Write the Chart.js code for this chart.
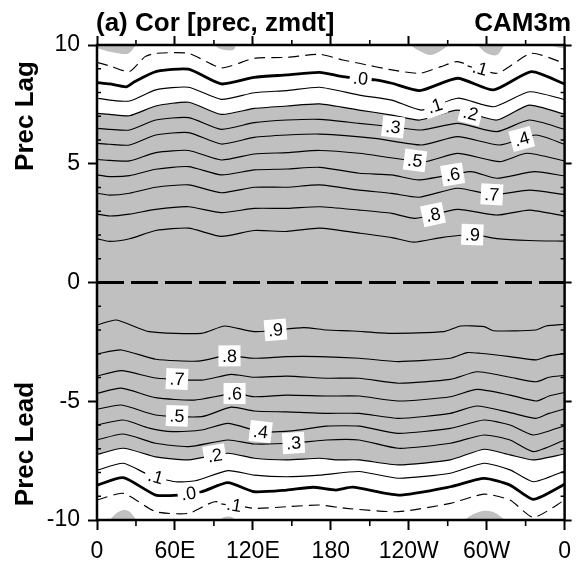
<!DOCTYPE html>
<html>
<head>
<meta charset="utf-8">
<script src="https://cdn.jsdelivr.net/npm/chart.js@4.4.1/dist/chart.umd.min.js"></script>
<style>
  html, body { margin: 0; padding: 0; background: #fff; }
  #wrap { width: 579px; height: 571px; position: relative; }
</style>
</head>
<body>
<div id="wrap"><canvas id="c" width="579" height="571"></canvas></div>
<script>
// Axis ticks
const lonTicks = [0, 60, 120, 180, 240, 300, 360];
const lonTickLabels = ['0', '60E', '120E', '180', '120W', '60W', '0'];
const lagTicks = [-10, -5, 0, 5, 10];
const lagTickLabels = ['-10', '-5', '0', '5', '10'];

// Correlation contours, precipitation lagging (positive lag): [lon, lag]
const lagN01 = [[0,9.27],[9.8,9.12],[25,8.88],[37,9.51],[45.3,9.65],[70.5,9.65],[95.7,9.04],[121,9.44],[146.3,9.48],[171.5,9.61],[189.2,9.37],[201.8,9.23],[227,8.95],[248.5,8.81],[264.9,9.09],[277.6,9.30],[307.8,8.81],[334.4,9.65],[360,9.23]];
const lag000 = [[0,8.42],[9.8,8.36],[22.5,8.24],[28.8,8.45],[45.3,8.88],[70.5,8.98],[95.7,8.36],[121,8.64],[146.3,8.74],[171.5,8.85],[189.2,8.67],[214.4,8.53],[227,8.39],[248.5,8.08],[277.6,8.60],[305.3,8.11],[334.4,8.88],[360,8.36]];
const lag010 = [[0,7.76],[9.8,7.68],[25,7.64],[45.3,8.11],[70.5,8.22],[95.7,7.71],[121,7.99],[146.3,8.08],[171.5,8.22],[201.8,7.89],[227,7.68],[250,7.26],[277.6,7.76],[305.3,7.40],[333,8.03],[360,7.70]];
const lag020 = [[0,7.12],[9.8,7.08],[25,7.02],[45.3,7.43],[70.5,7.59],[95.7,7.08],[121,7.33],[146.3,7.43],[171.5,7.52],[201.8,7.26],[227,7.05],[248.5,6.84],[277.6,7.26],[307.8,6.84],[332.8,7.47],[360,7.08]];
const lag030 = [[0,6.49],[9.8,6.45],[25,6.42],[45.3,6.84],[70.5,6.94],[95.7,6.45],[121,6.73],[146.3,6.84],[171.5,6.87],[201.8,6.70],[227,6.56],[250,6.42],[277.6,6.70],[307.8,6.35],[332.8,6.84],[360,6.45]];
const lag040 = [[0,5.86],[9.8,5.82],[25,5.79],[45.3,6.21],[70.5,6.31],[95.7,5.83],[121,6.11],[146.3,6.21],[171.5,6.25],[214,6.07],[250,5.79],[277.6,6.14],[310,5.79],[338,6.21],[360,5.82]];
const lag050 = [[0,5.18],[9.8,5.14],[25,5.12],[45.3,5.47],[70.5,5.56],[95.7,5.16],[121,5.41],[146.3,5.47],[171.5,5.56],[201.8,5.44],[252,5.09],[277.6,5.44],[310,5.09],[331,5.44],[360,5.12]];
const lag060 = [[0,4.53],[9.8,4.46],[25,4.50],[45.3,4.77],[70.5,4.88],[95.7,4.53],[121,4.74],[146.3,4.78],[171.5,4.85],[201.8,4.60],[227,4.53],[248,4.32],[287.7,4.67],[307.8,4.39],[337,4.67],[360,4.48]];
const lag070 = [[0,3.76],[9.8,3.68],[25,3.76],[45.3,4.01],[70.5,4.11],[95.7,3.78],[121,4.01],[146.3,4.01],[171.5,4.11],[201.8,3.89],[227,3.75],[248,3.59],[277.6,3.97],[305,3.70],[333,3.89],[360,3.70]];
const lag080 = [[0,2.88],[9.8,2.80],[25,2.88],[45.3,3.08],[70.5,3.19],[95.7,2.94],[121,3.12],[146.3,3.12],[171.5,3.19],[201.8,3.05],[227,2.91],[245,2.70],[277.6,3.08],[307.8,2.84],[332.8,3.05],[360,2.80]];
const lag090 = [[0,1.84],[9.8,1.73],[25,1.84],[45.3,2.19],[70.5,2.29],[95.7,1.94],[121,2.19],[146.3,2.15],[171.5,2.29],[201.8,2.08],[227,1.89],[244,1.70],[265,1.89],[289,2.02],[307.8,1.85],[332.8,1.77],[360,1.74]];

// Correlation contours, precipitation leading (negative lag): [lon, lag]
const lead090 = [[0,-1.79],[14.9,-1.58],[40.2,-2.07],[80.6,-2.14],[98.3,-1.83],[121,-2.07],[158.9,-1.90],[176.6,-2.00],[196.8,-2.04],[227,-2.14],[267,-2.07],[280,-1.83],[298,-1.86],[305,-2.03],[338,-2.00],[345.7,-1.83],[360,-1.76]];
const lead080 = [[0,-3.01],[18.7,-2.84],[45.2,-3.23],[78,-3.31],[100,-3.08],[121,-3.19],[146,-3.12],[171.5,-3.12],[201.8,-3.19],[232,-3.33],[272,-3.19],[285,-2.95],[295,-2.98],[318,-3.12],[338,-3.26],[348,-3.09],[360,-2.99]];
const lead070 = [[0,-3.94],[18.7,-3.71],[45.2,-4.02],[80.6,-4.11],[103.3,-3.87],[121,-3.99],[146,-3.94],[176.6,-4.03],[201.8,-4.03],[232,-4.24],[272,-4.08],[292.7,-3.76],[318,-3.99],[338,-4.18],[348,-3.99],[360,-3.91]];
const lead060 = [[0,-4.67],[18.7,-4.45],[45.2,-4.85],[74.8,-4.95],[106,-4.67],[121,-4.81],[146,-4.74],[176.6,-4.78],[201.8,-4.78],[232,-4.99],[272,-4.81],[292.7,-4.50],[318,-4.74],[338,-4.99],[348,-4.78],[360,-4.63]];
const lead050 = [[0,-5.34],[18.7,-5.16],[45.2,-5.58],[80.6,-5.65],[103.3,-5.25],[121,-5.41],[146,-5.45],[176.6,-5.51],[201.8,-5.51],[232,-5.72],[272,-5.51],[292.7,-5.20],[318,-5.48],[338,-5.72],[348,-5.51],[360,-5.32]];
const lead040 = [[0,-6.00],[20.2,-5.79],[40.2,-6.13],[58,-6.28],[80.6,-6.21],[100.8,-5.93],[126,-6.28],[150,-6.25],[176.6,-6.05],[201.8,-6.05],[232,-6.35],[272,-6.14],[298,-5.79],[318,-6.00],[336,-6.42],[360,-6.03]];
const lead030 = [[0,-6.63],[20.2,-6.38],[45.2,-6.77],[70.5,-6.91],[100.8,-6.63],[121,-6.80],[151,-6.76],[176.6,-6.63],[201.8,-6.63],[232,-6.98],[272,-6.77],[298,-6.42],[318,-6.63],[336,-7.12],[360,-6.63]];
const lead020 = [[0,-7.24],[20.2,-6.98],[45.2,-7.34],[70.5,-7.47],[100.8,-7.19],[121,-7.40],[146,-7.47],[171.5,-7.40],[184,-7.47],[201.8,-7.47],[232,-7.68],[272,-7.47],[298,-7.02],[318,-7.26],[336,-7.47],[360,-7.22]];
const lead010 = [[0,-7.91],[20.2,-7.61],[40,-8.10],[60.5,-8.39],[75.6,-8.35],[100.8,-7.92],[121,-8.11],[146,-8.18],[171.5,-8.11],[201.8,-7.96],[232,-8.24],[272,-8.03],[298,-7.61],[318,-7.89],[336,-8.39],[360,-7.94]];
const lead000 = [[0,-8.54],[20.2,-8.22],[45.2,-8.95],[62.6,-8.95],[80.6,-8.81],[100.8,-8.43],[121,-8.81],[146,-8.74],[166.3,-8.62],[184,-8.74],[196.8,-8.62],[232,-8.95],[272,-8.60],[298,-8.25],[318,-8.53],[336,-9.13],[360,-8.50]];
const leadN01 = [[0,-9.16],[20.2,-8.88],[45.2,-9.65],[70.5,-9.72],[90.7,-9.23],[121,-9.51],[146,-9.44],[171.5,-9.37],[191.9,-9.51],[232,-9.65],[272,-9.30],[298,-8.91],[318,-9.16],[336,-9.89],[360,-9.16]];

// Shaded patches of negative correlation near the lag limits
const negPatchesLag = [
  [[0,9.86],[9.8,9.72],[22.5,9.62],[26,9.72],[29.8,10]],
  [[89.4,10],[95.7,9.82],[105,9.79],[107,10]],
  [[241,10],[247,9.79],[256,9.58],[263.5,9.72],[271,10]],
  [[292.7,10],[300,9.65],[308,9.58],[313.5,10]],
  [[348,10],[355,9.9],[360,9.86]]
];
const negPatchesLead = [
  [[9.8,-10],[14.9,-9.72],[20.2,-9.58],[25.2,-9.65],[30.3,-10]],
  [[94.5,-10],[98,-9.87],[103,-9.86],[107,-10]],
  [[282.7,-10],[290,-9.75],[298,-9.61],[306,-9.68],[314.3,-10]]
];

// Contour levels drawn on each side
const lagContours = { lagN01, lag000, lag010, lag020, lag030, lag040, lag050, lag060, lag070, lag080, lag090 };
const leadContours = { leadN01, lead000, lead010, lead020, lead030, lead040, lead050, lead060, lead070, lead080, lead090 };
const contourLevel = { N01: -0.1, '000': 0, '010': 0.1, '020': 0.2, '030': 0.3, '040': 0.4, '050': 0.5, '060': 0.6, '070': 0.7, '080': 0.8, '090': 0.9 };

// Inline contour labels: [contour, longitude, text]
const contourLabels = [
  ['lag000', 203, '.0'], ['lagN01', 292.7, '-.1'], ['lag010', 260, '.1'], ['lag020', 287.7, '.2'],
  ['lag030', 228, '.3'], ['lag040', 327, '.4'], ['lag050', 244.8, '.5'], ['lag060', 273.8, '.6'],
  ['lag070', 304, '.7'], ['lag080', 258.7, '.8'], ['lag090', 289, '.9'],
  ['lead090', 137.4, '.9'], ['lead080', 102, '.8'], ['lead070', 61.6, '.7'], ['lead060', 105.9, '.6'],
  ['lead050', 61.6, '.5'], ['lead040', 126, '.4'], ['lead030', 151.3, '.3'], ['lead020', 90.7, '.2'],
  ['lead010', 45.2, '.1'], ['lead000', 70.5, '.0'], ['leadN01', 103.3, '-.1']
];

const zeroLag = [[0, 0], [360, 0]];

const SHADE = '#c0c0c0';
const FONT = '"Liberation Sans", Arial, Helvetica, sans-serif';
const toXY = pts => pts.map(([x, y]) => ({ x, y }));

const datasets = [];

// negative-correlation shading
negPatchesLag.forEach((p, i) => datasets.push({
  label: 'negLag' + i, data: toXY(p), borderWidth: 0, pointRadius: 0,
  backgroundColor: SHADE, fill: 'end', tension: 0.3
}));
negPatchesLead.forEach((p, i) => datasets.push({
  label: 'negLead' + i, data: toXY(p), borderWidth: 0, pointRadius: 0,
  backgroundColor: SHADE, fill: 'start', tension: 0.3
}));

function contourDataset(key, pts) {
  const lev = contourLevel[key.replace(/^lag|^lead/, '')];
  return {
    label: key, data: toXY(pts), pointRadius: 0, tension: 0.2, fill: false,
    borderColor: '#000',
    borderWidth: lev === 0 ? 2.8 : 1.15,
    borderDash: lev < 0 ? [11, 6] : [],
    backgroundColor: SHADE
  };
}
Object.entries(lagContours).forEach(([k, v]) => datasets.push(contourDataset(k, v)));
Object.entries(leadContours).forEach(([k, v]) => datasets.push(contourDataset(k, v)));

// shade correlations above 0.2: between the two 0.2 contours
const iTop = datasets.findIndex(d => d.label === 'lag020');
const iBot = datasets.findIndex(d => d.label === 'lead020');
datasets[iTop].fill = { target: iBot };

datasets.push({
  label: 'zeroLag', data: toXY(zeroLag), pointRadius: 0, borderColor: '#000',
  borderWidth: 3, borderDash: [27, 7], fill: false
});

function interpAt(data, lon) {
  for (let i = 0; i < data.length - 1; i++) {
    const a = data[i], b = data[i + 1];
    if (lon >= a.x && lon <= b.x) {
      const t = (lon - a.x) / (b.x - a.x);
      return a.y + t * (b.y - a.y);
    }
  }
  return data[data.length - 1].y;
}

const decor = {
  id: 'decor',
  afterDatasetsDraw(chart) {
    const ctx = chart.ctx, xs = chart.scales.x, ys = chart.scales.y;
    ctx.save();
    ctx.font = '18px ' + FONT;
    ctx.textAlign = 'center';
    ctx.textBaseline = 'middle';
    contourLabels.forEach(([key, lon, txt]) => {
      const ds = chart.data.datasets.find(d => d.label === key);
      const px = xs.getPixelForValue(lon), py = ys.getPixelForValue(interpAt(ds.data, lon));
      const x1 = xs.getPixelForValue(lon - 7), y1 = ys.getPixelForValue(interpAt(ds.data, Math.max(0, lon - 7)));
      const x2 = xs.getPixelForValue(lon + 7), y2 = ys.getPixelForValue(interpAt(ds.data, Math.min(360, lon + 7)));
      const ang = Math.atan2(y2 - y1, x2 - x1);
      const w = ctx.measureText(txt).width + 7, h = 21;
      ctx.save();
      ctx.translate(px, py);
      ctx.rotate(ang);
      ctx.fillStyle = '#fff';
      ctx.fillRect(-w / 2, -h / 2, w, h);
      ctx.fillStyle = '#000';
      ctx.fillText(txt, 0, 1);
      ctx.restore();
    });
    ctx.restore();
  },
  afterDraw(chart) {
    const ctx = chart.ctx, a = chart.chartArea, xs = chart.scales.x, ys = chart.scales.y;
    ctx.save();
    // frame
    ctx.strokeStyle = '#000';
    ctx.lineWidth = 2.5;
    ctx.strokeRect(a.left, a.top, a.right - a.left, a.bottom - a.top);
    // minor ticks
    ctx.lineWidth = 1.6;
    ctx.beginPath();
    for (let lon = 30; lon < 360; lon += 60) {
      const px = xs.getPixelForValue(lon);
      ctx.moveTo(px, a.bottom); ctx.lineTo(px, a.bottom + 6);
      ctx.moveTo(px, a.top); ctx.lineTo(px, a.top - 5);
    }
    for (let l = -9; l < 10; l++) {
      if (l % 5 === 0) continue;
      const py = ys.getPixelForValue(l);
      ctx.moveTo(a.left, py); ctx.lineTo(a.left + 4, py);
      ctx.moveTo(a.right, py); ctx.lineTo(a.right - 4, py);
    }
    ctx.stroke();
    // titles
    ctx.fillStyle = '#000';
    ctx.font = 'bold 26px ' + FONT;
    ctx.textBaseline = 'alphabetic';
    ctx.textAlign = 'left';
    ctx.fillText('(a) Cor [prec, zmdt]', 96, 31);
    ctx.textAlign = 'right';
    ctx.fillText('CAM3m', 571, 31);
    ctx.font = 'bold 26px ' + FONT;
    ctx.textAlign = 'center';
    ctx.textBaseline = 'middle';
    [['Prec Lag', 116], ['Prec Lead', 444]].forEach(([t, cy]) => {
      ctx.save();
      ctx.translate(26, cy);
      ctx.rotate(-Math.PI / 2);
      ctx.fillText(t, 0, 0);
      ctx.restore();
    });
    ctx.restore();
  }
};

const tickFont = { family: FONT, size: 23 };
const majorGrid = len => ({ drawOnChartArea: false, drawTicks: true, tickLength: len, tickWidth: 2, tickColor: '#000' });

new Chart(document.getElementById('c'), {
  type: 'scatter',
  data: { datasets },
  options: {
    responsive: false,
    animation: false,
    devicePixelRatio: 1,
    showLine: true,
    layout: { padding: 0 },
    plugins: {
      legend: { display: false },
      tooltip: { enabled: false },
      filler: { propagate: false, drawTime: 'beforeDatasetsDraw' }
    },
    scales: {
      x: {
        type: 'linear', position: 'bottom', min: 0, max: 360,
        afterBuildTicks: s => { s.ticks = lonTicks.map(v => ({ value: v })); },
        ticks: { callback: v => lonTickLabels[lonTicks.indexOf(v)], font: tickFont, color: '#000', padding: 8, maxRotation: 0, autoSkip: false },
        grid: majorGrid(10), border: { display: false },
        afterFit: s => { s.height = 51; }
      },
      xTop: {
        type: 'linear', position: 'top', min: 0, max: 360,
        afterBuildTicks: s => { s.ticks = lonTicks.map(v => ({ value: v })); },
        ticks: { display: false },
        grid: majorGrid(9), border: { display: false },
        afterFit: s => { s.height = 45; }
      },
      y: {
        type: 'linear', position: 'left', min: -10, max: 10,
        afterBuildTicks: s => { s.ticks = lagTicks.map(v => ({ value: v })); },
        ticks: { callback: v => lagTickLabels[lagTicks.indexOf(v)], font: tickFont, color: '#000', padding: 8 },
        grid: majorGrid(9), border: { display: false },
        afterFit: s => { s.width = 97; }
      },
      yRight: {
        type: 'linear', position: 'right', min: -10, max: 10,
        afterBuildTicks: s => { s.ticks = lagTicks.map(v => ({ value: v })); },
        ticks: { display: false },
        grid: majorGrid(7), border: { display: false },
        afterFit: s => { s.width = 7; }
      }
    }
  },
  plugins: [decor]
});
</script>
</body>
</html>
